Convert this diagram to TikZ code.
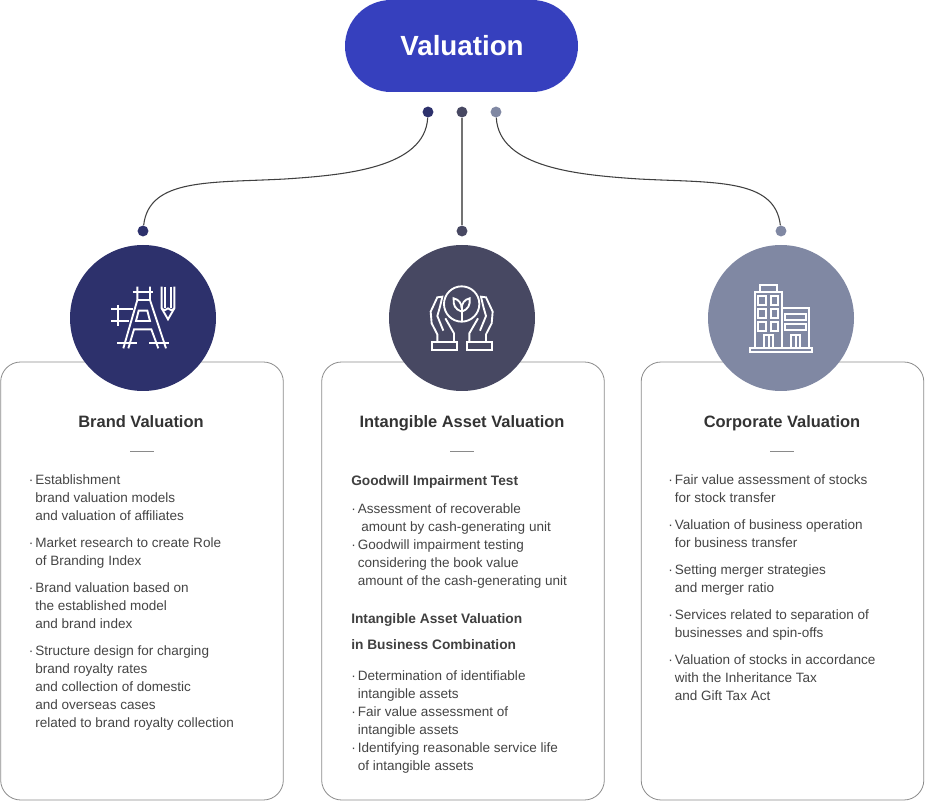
\documentclass[tikz,border=0pt]{standalone}
\usepackage{fontspec}
\setmainfont{Liberation Sans}
\usetikzlibrary{positioning,shapes.geometric}
\definecolor{pillblue}{HTML}{3640BE}
\definecolor{navy}{HTML}{2D316C}
\definecolor{slate}{HTML}{474862}
\definecolor{steel}{HTML}{8088A3}
\definecolor{boxline}{HTML}{8A8A8A}
\definecolor{bodytext}{HTML}{444444}
\newcommand{\dotitem}{\makebox[4.9pt][l]{·}}
\newcommand{\contline}{\hspace*{4.9pt}}
\begin{document}
\begin{tikzpicture}[x=0.75pt,y=-0.75pt,
  pill/.style={fill=pillblue, rounded corners=34.5pt, minimum width=174.75pt, minimum height=69pt, inner sep=0pt},
  badge/.style={circle, minimum size=109.5pt, inner sep=0pt},
  card/.style={draw=boxline, line width=0.6pt, rounded corners=15pt, minimum width=212pt, minimum height=328.5pt, inner sep=0pt},
  pin/.style={circle, minimum size=8.2pt, inner sep=0pt},
  pilltext/.style={text=white, font=\fontsize{20.8}{26}\selectfont\bfseries, inner sep=0pt, anchor=base},
  title/.style={font=\fontsize{12.35}{15}\selectfont\bfseries, text=black!80, inner sep=0pt, anchor=base},
  rule/.style={draw=boxline, line width=0.5pt},
  body/.style={font=\fontsize{10.15}{13.5}\selectfont, text=bodytext, align=left, anchor=north west, inner sep=0pt},
  head/.style={font=\fontsize{10.3}{19.5}\selectfont\bfseries, text=black!75, align=left, anchor=north west, inner sep=0pt},
  link/.style={line width=0.8pt, draw=black!75},
  icon/.style={draw=white, line width=1.4pt, line join=miter},
  zoomed/.style={x=0.25pt,y=-0.25pt}]
  \useasboundingbox (0,0) rectangle (925,802);
  \node[pill] (valuation) at (461.5,46) {};
  \node[pilltext] (valuationtext) at (462,56) {Valuation};
  % cards
  \node[card] (brandcard) at (142,581) {};
  \node[card] (assetcard) at (463,581) {};
  \node[card] (corpcard) at (782.5,581) {};
  % badges
  \node[badge, fill=navy] (brandbadge) at (143,318) {};
  \node[badge, fill=slate] (assetbadge) at (462,318) {};
  \node[badge, fill=steel] (corpbadge) at (781,318) {};
  % connectors
  \node[pin, fill=navy] (brandtop) at (428,112) {};
  \node[pin, fill=slate] (assettop) at (462,112) {};
  \node[pin, fill=steel] (corptop) at (496,112) {};
  \node[pin, fill=navy] (brandpin) at (143,231) {};
  \node[pin, fill=slate] (assetpin) at (462,231) {};
  \node[pin, fill=steel] (corppin) at (781,231) {};
  \coordinate (brandmid) at (285,179);
  \coordinate (corpmid) at (639,179);
  \draw[link] (brandtop) .. controls (425,168) and (345,175) .. (brandmid) .. controls (210,183) and (149,178) .. (brandpin);
  \draw[link, line width=1pt, draw=black!55] (assettop) -- (assetpin);
  \draw[link] (corptop) .. controls (499,168) and (579,175) .. (corpmid) .. controls (714,183) and (775,178) .. (corppin);
  % titles
  \node[title] (brandtitle) at (141,427) {Brand Valuation};
  \node[title] (assettitle) at (462,427) {Intangible Asset Valuation};
  \node[title] (corptitle) at (782,427) {Corporate Valuation};
  \draw[rule] (130,451.5) -- (154,451.5);
  \draw[rule] (450,451.5) -- (474,451.5);
  \draw[rule] (770,451.5) -- (794,451.5);
  % left card
  \node[body] (brandlist) at (28.5,474.3) {\dotitem Establishment\\
    \contline brand valuation models\\
    \contline and valuation of affiliates\\[6.75pt]
    \dotitem Market research to create Role\\
    \contline of Branding Index\\[6.75pt]
    \dotitem Brand valuation based on\\
    \contline the established model\\
    \contline and brand index\\[6.75pt]
    \dotitem Structure design for charging\\
    \contline brand royalty rates\\
    \contline and collection of domestic\\
    \contline and overseas cases\\
    \contline related to brand royalty collection};
  % middle card
  \node[head] (goodwillhead) at (351,475.5) {Goodwill Impairment Test};
  \node[body] (goodwilllist) at (351,503.3) {\dotitem Assessment of recoverable\\
    \hspace*{7.5pt}amount by cash-generating unit\\
    \dotitem Goodwill impairment testing\\
    \contline considering the book value\\
    \contline amount of the cash-generating unit};
  \node[head] (combohead) at (351,613.5) {Intangible Asset Valuation\\in Business Combination};
  \node[body] (combolist) at (351,670.3) {\dotitem Determination of identifiable\\
    \contline intangible assets\\
    \dotitem Fair value assessment of\\
    \contline intangible assets\\
    \dotitem Identifying reasonable service life\\
    \contline of intangible assets};
  % right card
  \node[body] (corplist) at (668,474.3) {\dotitem Fair value assessment of stocks\\
    \contline for stock transfer\\[6.75pt]
    \dotitem Valuation of business operation\\
    \contline for business transfer\\[6.75pt]
    \dotitem Setting merger strategies\\
    \contline and merger ratio\\[6.75pt]
    \dotitem Services related to separation of\\
    \contline businesses and spin-offs\\[6.75pt]
    \dotitem Valuation of stocks in accordance\\
    \contline with the Inheritance Tax\\
    \contline and Gift Tax Act};
  % brand icon
  \begin{scope}[shift={(60,240)},zoomed,icon]
    \draw (232,140) -- (232,180) -- (190,325);
    \draw (270,140) -- (270,180) -- (318,325);
    \draw (218,155) -- (280,155);
    \draw (232,180) -- (270,180);
    \draw (236,212) -- (262,212) -- (270,243) -- (228,243) -- cycle;
    \draw (205,325) -- (222,268) -- (274,268) -- (295,325);
    \draw (153,208) -- (218,208);
    \draw (153,243) -- (207,243);
    \draw (173,195) -- (173,258);
    \draw (172,310) -- (230,310);
    \draw (268,310) -- (326,310);
    \draw (305,140) -- (305,205) -- (324,238) -- (343,205) -- (343,140);
    \draw (316,140) -- (316,205);
    \draw (332,140) -- (332,205);
    \draw (305,205) .. controls (312,212) and (318,212) .. (324,205) .. controls (330,212) and (336,212) .. (343,205);
  \end{scope}
  % hands icon
  \begin{scope}[shift={(380,240)},zoomed,icon]
    \draw (245,192) circle[radius=13.25pt];
    \draw (245,245) -- (245,195);
    \draw (245,215) .. controls (225,208) and (219,195) .. (221,175) .. controls (236,178) and (245,190) .. (245,205);
    \draw (245,215) .. controls (265,208) and (271,195) .. (269,175) .. controls (254,178) and (245,190) .. (245,205);
    \foreach \side in {1,-1}{
      \begin{scope}[xshift=61.25pt,xscale=\side,xshift=-61.25pt]
        \draw (155,305) rectangle (230,330);
        \draw (172,305) -- (172,283) -- (155,250) -- (152,215) -- (172,172) -- (187,170) -- (180,200) -- (172,228) -- (190,272);
        \draw (196,235) -- (222,280) -- (222,305);
      \end{scope}
    }
  \end{scope}
  % building icon
  \begin{scope}[shift={(700,240)},zoomed,icon]
    \draw (150,323) rectangle (337,337);
    \draw (165,323) -- (165,155) -- (247,155) -- (247,323);
    \draw (180,155) -- (180,135) -- (232,135) -- (232,155);
    \foreach \wy in {168,207,245}{
      \draw (175,\wy) rectangle (197,\wy+27);
      \draw (213,\wy) rectangle (235,\wy+27);
    }
    \draw (247,203) -- (327,203) -- (327,323);
    \draw (255,223) rectangle (317,240);
    \draw (255,252) rectangle (317,269);
    \draw (193,323) -- (193,285) -- (220,285) -- (220,323);
    \draw (206,285) -- (206,323);
    \draw (273,323) -- (273,285) -- (300,285) -- (300,323);
    \draw (287,285) -- (287,323);
  \end{scope}
\end{tikzpicture}
\end{document}
